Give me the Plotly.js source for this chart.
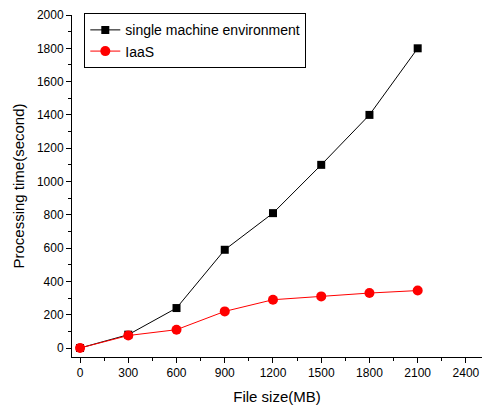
<!DOCTYPE html>
<html><head><meta charset="utf-8">
<script src="https://cdn.plot.ly/plotly-3.0.1.min.js"></script>
<style>html,body{margin:0;padding:0;background:#fff}#chart{width:483px;height:409px}</style>
</head><body><div id="chart"></div>
<script>
const fileSizes = [0, 300, 600, 900, 1200, 1500, 1800, 2100];
const singleMachine = [0, 80, 240, 590, 810, 1100, 1400, 1800];
const iaas = [0, 75, 110, 220, 290, 310, 330, 345];
const xTicks = [0, 300, 600, 900, 1200, 1500, 1800, 2100, 2400];
const yTicks = [0, 200, 400, 600, 800, 1000, 1200, 1400, 1600, 1800, 2000];

const font = {family: '"Liberation Sans", Arial, sans-serif', color: '#000'};
const traces = [
  {x: fileSizes, y: singleMachine, name: 'single machine environment', mode: 'lines+markers',
   line: {color: '#000', width: 1}, marker: {symbol: 'square', size: 8, color: '#000'}},
  {x: fileSizes, y: iaas, name: 'IaaS', mode: 'lines+markers',
   line: {color: '#ff0000', width: 1}, marker: {symbol: 'circle', size: 10, color: '#ff0000'}}
];
const layout = {
  width: 483, height: 409,
  margin: {l: 72, r: 1, t: 15, b: 52},
  paper_bgcolor: '#fff', plot_bgcolor: '#fff',
  font: Object.assign({size: 12}, font),
  showlegend: true,
  legend: {x: 0.03, y: 1.005, xanchor: 'left', yanchor: 'top', bordercolor: '#000', borderwidth: 1,
           bgcolor: 'rgba(255,255,255,0)', font: Object.assign({size: 14}, font), tracegroupgap: 0},
  xaxis: {range: [-50, 2500], tickvals: xTicks, ticktext: xTicks.map(String), ticks: 'outside', ticklen: 5,
          tickcolor: '#000', showline: true, linecolor: '#000', linewidth: 1, showgrid: false, zeroline: false,
          minor: {dtick: 150, tick0: 0, ticks: 'outside', ticklen: 3, tickcolor: '#000', showgrid: false},
          tickfont: Object.assign({size: 12}, font),
          title: {text: 'File size(MB)', font: Object.assign({size: 15}, font), standoff: 12}},
  yaxis: {range: [-54, 2000], tickvals: yTicks, ticktext: yTicks.map(String), ticks: 'outside', ticklen: 5,
          tickcolor: '#000', showline: true, linecolor: '#000', linewidth: 1, showgrid: false, zeroline: false,
          minor: {dtick: 100, tick0: 0, ticks: 'outside', ticklen: 3, tickcolor: '#000', showgrid: false},
          tickfont: Object.assign({size: 12}, font),
          title: {text: 'Processing time(second)', font: Object.assign({size: 15}, font), standoff: 8}}
};
Plotly.newPlot('chart', traces, layout, {displayModeBar: false, staticPlot: true});
</script></body></html>
